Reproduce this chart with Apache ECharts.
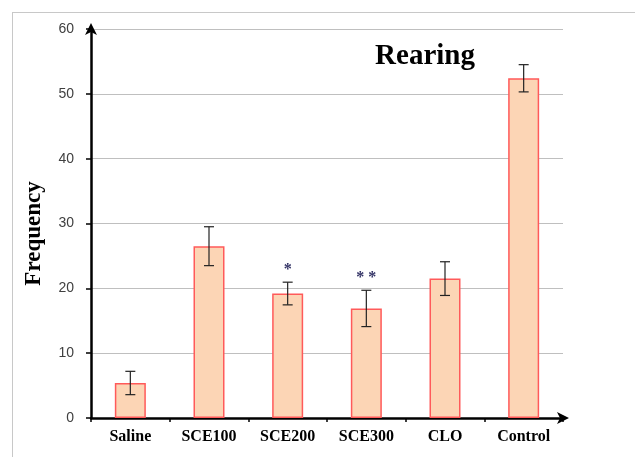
<!DOCTYPE html>
<html>
<head>
<meta charset="utf-8">
<script src="https://cdn.jsdelivr.net/npm/echarts@6/dist/echarts.min.js"></script>
<style>
html,body{margin:0;padding:0;background:#fff;}
#frame{position:absolute;left:12px;top:12px;width:640px;height:460px;border-left:1.5px solid #c8c8c8;border-top:1.5px solid #c8c8c8;}
#chart{position:absolute;left:0;top:0;width:635px;height:457px;}
</style>
</head>
<body>
<div id="frame"></div>
<div id="chart"></div>
<script>
const categories = ['Saline', 'SCE100', 'SCE200', 'SCE300', 'CLO', 'Control'];
const means = [5.4, 26.5, 19.2, 16.9, 21.5, 52.4];
const errors = [1.8, 3.0, 1.75, 2.8, 2.6, 2.1];
const significance = ['', '', '*', '* *', '', ''];
const yTicks = [0, 10, 20, 30, 40, 50, 60];

const chart = echarts.init(document.getElementById('chart'), null, {renderer: 'canvas'});

const errData = means.map((m, i) => [i, m - errors[i], m + errors[i], significance[i]]);

chart.setOption({
  animation: false,
  title: {
    text: 'Rearing',
    left: 420, top: 37, textAlign: 'center',
    textStyle: {fontFamily: 'Liberation Serif', fontWeight: 'bold', fontSize: 29, color: '#000'}
  },
  grid: {left: 91, right: 72, top: 29, bottom: 39},
  xAxis: {
    type: 'category',
    data: categories,
    axisLine: {show: true, lineStyle: {color: '#000', width: 2.5}, symbol: ['none', 'arrow'], symbolSize: [9, 12], symbolOffset: [0, 6]},
    axisTick: {show: true, length: 4, lineStyle: {color: '#000', width: 1.5}},
    axisLabel: {margin: 11, fontFamily: 'Liberation Serif', fontWeight: 'bold', fontSize: 16, color: '#000'},
    splitLine: {show: false}
  },
  yAxis: {
    type: 'value',
    min: yTicks[0], max: yTicks[yTicks.length - 1], interval: 10,
    name: 'Frequency',
    nameLocation: 'middle',
    nameGap: 45,
    nameRotate: 90,
    nameTextStyle: {fontFamily: 'Liberation Serif', fontWeight: 'bold', fontSize: 23, color: '#000', padding: [0, 20, 0, 0]},
    axisLine: {show: true, lineStyle: {color: '#000', width: 2.5}, symbol: ['none', 'arrow'], symbolSize: [9, 12], symbolOffset: [0, 6]},
    axisTick: {show: true, inside: false, length: 5, lineStyle: {color: '#000', width: 1.5}},
    axisLabel: {margin: 17, fontFamily: 'Liberation Sans', fontSize: 14, color: '#404040'},
    splitLine: {show: true, lineStyle: {color: '#bfbfbf', width: 1.2}}
  },
  series: [
    {
      type: 'bar',
      data: means,
      barWidth: 31,
      itemStyle: {color: '#fcd5b5', borderColor: '#ff5a5a', borderWidth: 1.5},
      z: 2
    },
    {
      type: 'custom',
      data: errData,
      z: 5,
      renderItem: function (params, api) {
        const x = api.coord([api.value(0), 0])[0];
        const lo = api.coord([api.value(0), api.value(1)])[1];
        const hi = api.coord([api.value(0), api.value(2)])[1];
        const cap = 5;
        const st = {stroke: '#222', lineWidth: 1.2};
        const children = [
          {type: 'line', shape: {x1: x, y1: lo, x2: x, y2: hi}, style: st},
          {type: 'line', shape: {x1: x - cap, y1: lo, x2: x + cap, y2: lo}, style: st},
          {type: 'line', shape: {x1: x - cap, y1: hi, x2: x + cap, y2: hi}, style: st}
        ];
        const sig = errData[params.dataIndex][3];
        if (sig) {
          children.push({
            type: 'text',
            style: {text: sig, x: x, y: hi - 4, align: 'center', verticalAlign: 'bottom',
              fontFamily: 'Liberation Serif', fontWeight: 'bold', fontSize: 16, fill: '#333366'}
          });
        }
        return {type: 'group', children: children};
      }
    }
  ]
});
</script>
</body>
</html>
